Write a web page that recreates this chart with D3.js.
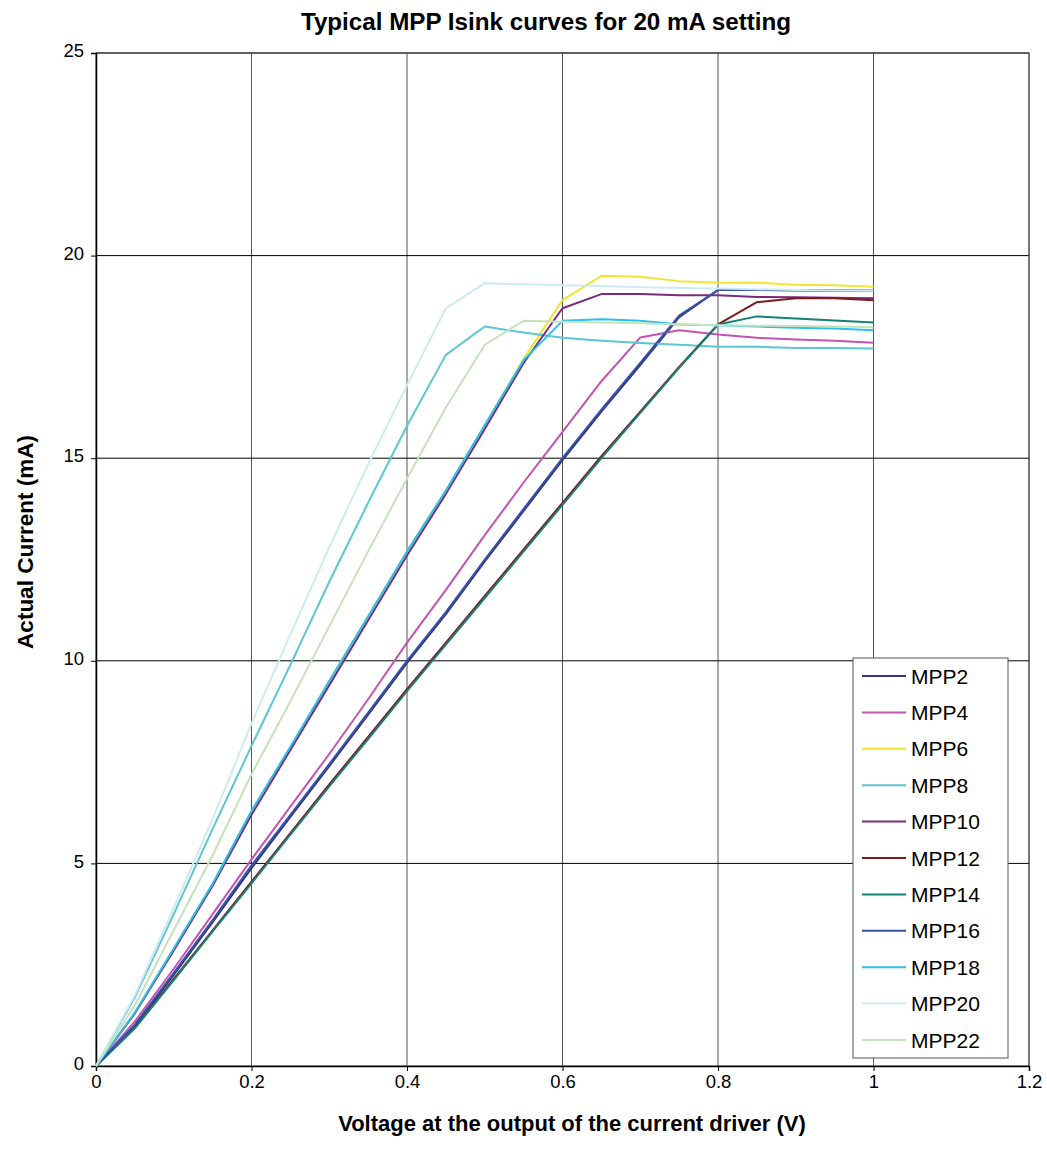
<!DOCTYPE html>
<html><head><meta charset="utf-8">
<script src="https://cdn.jsdelivr.net/npm/d3@7"></script>
<style>body{margin:0;background:#fff;} svg{display:block;font-family:"Liberation Sans",Arial,sans-serif;}</style>
</head><body>
<script>
const voltages = [0,0.05,0.1,0.15,0.2,0.25,0.3,0.35,0.4,0.45,0.5,0.55,0.6,0.65,0.7,0.75,0.8,0.85,0.9,0.95,1.0];
const seriesNames = ["MPP2","MPP4","MPP6","MPP8","MPP10","MPP12","MPP14","MPP16","MPP18","MPP20","MPP22"];
const seriesColors = ["#34357F","#C453B3","#EEE631","#5CC6D2","#7A2A7E","#7F1A1E","#13807A","#3552A8","#28C0EE","#CDEBF2","#C6E2BC"];
const MPP2  = [0,0.98,2.25,3.55,4.88,6.15,7.4,8.67,9.95,11.15,12.45,13.7,14.95,16.15,17.3,18.48,19.15,19.15,19.14,19.14,19.13];
const MPP4  = [0,1.1,2.4,3.75,5.1,6.4,7.7,9.05,10.45,11.75,13.1,14.4,15.65,16.9,17.98,18.16,18.05,17.97,17.93,17.9,17.85];
const MPP6  = [0,1.32,2.9,4.5,6.28,7.85,9.5,11.1,12.7,14.2,15.8,17.45,18.9,19.5,19.48,19.37,19.33,19.33,19.28,19.27,19.23];
const MPP8  = [0,1.7,3.75,5.85,7.9,9.9,11.95,13.9,15.8,17.55,18.25,18.1,17.97,17.9,17.84,17.8,17.75,17.75,17.72,17.72,17.71];
const MPP10 = [0,1.3,2.85,4.45,6.2,7.8,9.4,11.0,12.6,14.12,15.72,17.35,18.7,19.05,19.05,19.02,19.02,18.98,18.97,18.96,18.95];
const MPP12 = [0,0.95,2.15,3.35,4.55,5.75,6.95,8.12,9.3,10.45,11.6,12.75,13.9,15.05,16.15,17.25,18.3,18.85,18.95,18.95,18.9];
const MPP14 = [0,0.93,2.12,3.32,4.51,5.71,6.9,8.07,9.25,10.4,11.55,12.7,13.85,15.0,16.12,17.23,18.3,18.5,18.45,18.4,18.35];
const MPP16 = [0,1.02,2.3,3.6,4.95,6.2,7.45,8.72,10.0,11.2,12.5,13.75,15.0,16.2,17.35,18.52,19.15,19.15,19.15,19.14,19.13];
const MPP18 = [0,1.32,2.9,4.5,6.3,7.88,9.5,11.1,12.7,14.2,15.82,17.42,18.39,18.43,18.39,18.3,18.28,18.25,18.22,18.2,18.16];
const MPP20 = [0,1.75,3.9,6.1,8.45,10.65,12.8,14.85,16.8,18.7,19.32,19.29,19.27,19.25,19.22,19.2,19.19,19.17,19.15,19.14,19.13];
const MPP22 = [0,1.5,3.35,5.2,7.2,9.0,10.85,12.7,14.5,16.25,17.8,18.39,18.37,18.35,18.33,18.3,18.28,18.27,18.26,18.25,18.23];
const seriesValues = [MPP2,MPP4,MPP6,MPP8,MPP10,MPP12,MPP14,MPP16,MPP18,MPP20,MPP22];
const xTicks = [0,0.2,0.4,0.6,0.8,1,1.2];
const yTicks = [0,5,10,15,20,25];
const titleText = "Typical MPP Isink curves for 20 mA setting";
const xLabel = "Voltage at the output of the current driver (V)";
const yLabel = "Actual Current (mA)";

const W = 1047, H = 1165;
const m = {left:96, right:1029, top:53, bottom:1066};
const svg = d3.select("body").append("svg").attr("width",W).attr("height",H);
const x = d3.scaleLinear().domain([0,1.2]).range([m.left,m.right]);
const y = d3.scaleLinear().domain([0,25]).range([m.bottom,m.top]);

// grid
svg.append("g").selectAll("line").data(xTicks.slice(1)).join("line")
  .attr("x1",d=>x(d)).attr("x2",d=>x(d)).attr("y1",m.top).attr("y2",m.bottom)
  .attr("stroke","#555").attr("stroke-width",1);
svg.append("g").selectAll("line").data(yTicks.slice(1)).join("line")
  .attr("x1",m.left).attr("x2",m.right).attr("y1",d=>y(d)).attr("y2",d=>y(d))
  .attr("stroke","#000").attr("stroke-width",1);
svg.append("rect").attr("x",m.left).attr("y",m.top).attr("width",m.right-m.left).attr("height",m.bottom-m.top)
  .attr("fill","none").attr("stroke","#444").attr("stroke-width",1);

// axes
const xAxis = d3.axisBottom(x).tickValues(xTicks).tickSize(5).tickFormat(d=>d3.format("")(+d.toFixed(1)));
const gx = svg.append("g").attr("transform",`translate(0,${m.bottom})`).call(xAxis);
gx.select(".domain").attr("stroke","#000").attr("stroke-width",1.5);
gx.selectAll(".tick line").attr("stroke","#000");
gx.selectAll(".tick text").attr("font-size",18.5).attr("fill","#000").attr("y",8).attr("dy","0.75em")
  .attr("font-family","Liberation Sans, Arial, sans-serif");
const yAxis = d3.axisLeft(y).tickValues(yTicks).tickSize(5);
const gy = svg.append("g").attr("transform",`translate(${m.left},0)`).call(yAxis);
gy.select(".domain").attr("stroke","#000").attr("stroke-width",1.5);
gy.selectAll(".tick line").attr("stroke","#000");
gy.selectAll(".tick text").attr("font-size",18.5).attr("fill","#000").attr("x",-12).attr("dy","0.2em")
  .attr("font-family","Liberation Sans, Arial, sans-serif");

// lines
const line = d3.line().x((d,i)=>x(voltages[i])).y(d=>y(d));
svg.append("g").selectAll("path").data(seriesValues).join("path")
  .attr("d",d=>line(d)).attr("fill","none")
  .attr("stroke",(d,i)=>seriesColors[i]).attr("stroke-width",2).attr("stroke-linejoin","round");

// titles
svg.append("text").attr("x",546).attr("y",30).attr("text-anchor","middle")
  .attr("font-size",24.2).attr("font-weight","bold").text(titleText);
svg.append("text").attr("x",572).attr("y",1131).attr("text-anchor","middle")
  .attr("font-size",22).attr("font-weight","bold").text(xLabel);
svg.append("text").attr("transform","translate(33,542) rotate(-90)").attr("text-anchor","middle")
  .attr("font-size",22.5).attr("font-weight","bold").text(yLabel);

// legend
const lg = svg.append("g");
lg.append("rect").attr("x",853).attr("y",658).attr("width",155).attr("height",400)
  .attr("fill","#fff").attr("stroke","#555").attr("stroke-width",1);
const step = 36.4;
const items = lg.selectAll("g.item").data(seriesNames).join("g").attr("class","item")
  .attr("transform",(d,i)=>`translate(0,${676+i*step})`);
items.append("line").attr("x1",862).attr("x2",906).attr("y1",0).attr("y2",0)
  .attr("stroke",(d,i)=>seriesColors[i]).attr("stroke-width",2);
items.append("text").attr("x",911).attr("y",0).attr("dy","0.36em").attr("font-size",21).text(d=>d);
</script>
</body></html>
